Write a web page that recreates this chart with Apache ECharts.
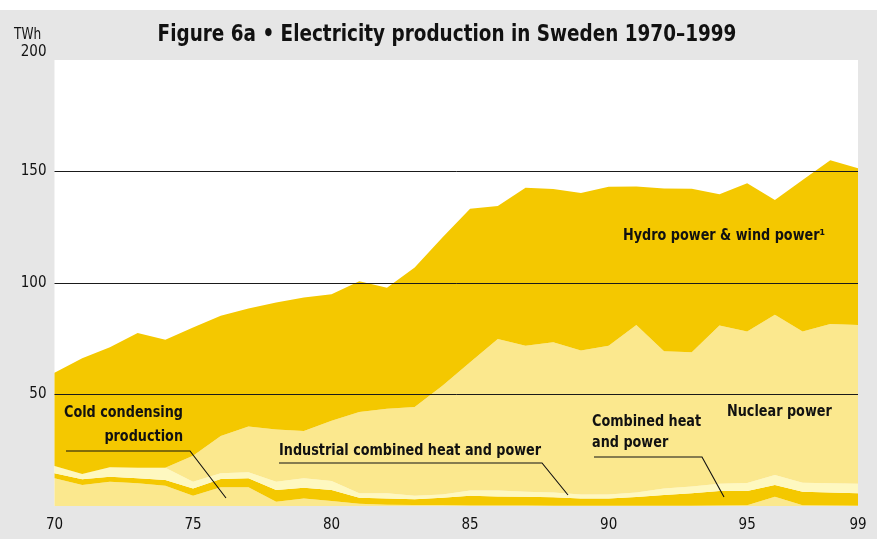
<!DOCTYPE html>
<html>
<head>
<meta charset="utf-8">
<script src="https://cdn.jsdelivr.net/npm/echarts@6/dist/echarts.min.js"></script>
<style>
  html, body { margin: 0; padding: 0; background: #e6e6e6; }
  #chart { width: 877px; height: 539px; }
</style>
</head>
<body>
<div id="chart"></div>
<script>
/* Figure 6a: electricity production in Sweden 1970–1999, stacked areas (TWh). */

const years = [1970, 1971, 1972, 1973, 1974, 1975, 1976, 1977, 1978, 1979,
               1980, 1981, 1982, 1983, 1984, 1985, 1986, 1987, 1988, 1989,
               1990, 1991, 1992, 1993, 1994, 1995, 1996, 1997, 1998, 1999];

// bottom of the stack first
const coldCondensing = [12.4, 9.4, 10.9, 10.2, 9.1, 4.6, 8.4, 8.4, 1.9, 3.4,
                        2.2, 1.0, 0.6, 0.4, 0.4, 0.2, 0.2, 0.2, 0.1, 0.1,
                        0.1, 0.1, 0.1, 0.1, 0.2, 0.3, 4.2, 0.3, 0.2, 0.1];
const chp = [2.3, 2.6, 2.2, 2.2, 2.6, 3.3, 3.7, 4.0, 5.3, 4.8,
             5.0, 2.7, 2.8, 2.6, 3.3, 4.4, 4.1, 4.0, 3.8, 3.3,
             3.3, 3.9, 4.8, 5.6, 6.5, 6.4, 5.2, 6.1, 5.9, 5.6];
const industrialChp = [3.2, 2.3, 4.3, 4.8, 5.5, 3.0, 2.6, 2.7, 3.7, 4.2,
                       4.0, 2.0, 2.3, 1.6, 1.5, 2.4, 2.6, 2.2, 2.1, 1.8,
                       1.8, 2.1, 3.0, 3.1, 3.3, 3.6, 4.5, 4.0, 4.1, 4.3];
const nuclear = [0, 0, 0, 0, 0, 11.6, 16.7, 20.6, 23.4, 21.2,
                 27.0, 36.4, 37.9, 39.8, 48.7, 57.5, 68.0, 65.5, 67.4, 64.5,
                 66.7, 75.1, 61.5, 60.2, 70.9, 67.9, 71.9, 67.8, 71.4, 71.2];
const hydroWind = [41.8, 52.0, 53.8, 60.4, 57.4, 57.5, 53.9, 52.9, 57.0, 59.9,
                   56.7, 58.7, 54.3, 62.6, 66.5, 68.8, 59.6, 70.8, 68.7, 70.7,
                   71.3, 62.1, 73.0, 73.3, 58.9, 66.5, 51.4, 68.0, 73.4, 70.3];

const gridValues = [50, 100, 150];

const C = {
  bg: '#e6e6e6',
  dark: '#f4c800',
  light: '#fbe88e',
  pale: '#fef8c0',
  ink: '#111',
  font: "'DejaVu Sans Condensed', 'Liberation Sans Narrow', sans-serif",
};

function layer(name, data, color, extra) {
  return Object.assign({
    name, type: 'line', stack: 'total', data,
    symbol: 'none', silent: true,
    lineStyle: { width: 0 },
    areaStyle: { color, opacity: 1 },
  }, extra || {});
}

// bold condensed annotation; squeezed horizontally to mimic the narrow face
function label(text, x, y, align) {
  return {
    type: 'text', x, y, z: 20, silent: true, scaleX: 0.89,
    style: {
      text, fill: C.ink, font: `bold 16px ${C.font}`,
      textAlign: align || 'left', textVerticalAlign: 'middle',
    },
  };
}

function leader(points) {
  return {
    type: 'polyline', z: 20, silent: true,
    shape: { points },
    style: { stroke: C.ink, lineWidth: 1.1, fill: null },
  };
}

const chart = echarts.init(document.getElementById('chart'), null, { renderer: 'canvas' });

chart.setOption({
  animation: false,
  backgroundColor: C.bg,
  grid: { left: 54.5, right: 19, top: 60, bottom: 33, show: true, backgroundColor: '#fff', borderWidth: 0 },
  xAxis: {
    type: 'category',
    data: years,
    boundaryGap: false,
    axisLine: { show: false },
    axisTick: { show: false },
    axisLabel: {
      color: C.ink, fontFamily: C.font, fontSize: 15, margin: 12,
      interval: i => i % 5 === 0 || i === years.length - 1,
      formatter: v => String(v).slice(2),
    },
  },
  yAxis: {
    type: 'value',
    min: 0, max: 200, interval: 50,
    axisLine: { show: false },
    axisTick: { show: false },
    splitLine: { show: false },
    axisLabel: {
      color: C.ink, fontFamily: C.font, fontSize: 15, margin: 8,
      showMinLabel: false, verticalAlignMaxLabel: 'bottom',
    },
  },
  series: [
    layer('Cold condensing production', coldCondensing, C.light),
    layer('Combined heat and power', chp, C.dark),
    layer('Industrial combined heat and power', industrialChp, C.pale),
    layer('Nuclear power', nuclear, C.light),
    layer('Hydro power & wind power', hydroWind, C.dark, {
      markLine: {
        silent: true, symbol: 'none',
        label: { show: false },
        lineStyle: { color: '#1a1a1a', type: 'solid', width: 1 },
        data: gridValues.map(v => ({ yAxis: v })),
      },
    }),
  ],
  graphic: [
    { type: 'rect', shape: { x: 0, y: 0, width: 877, height: 10 }, style: { fill: '#fff' }, silent: true },
    {
      type: 'text', x: 447, y: 35, silent: true, scaleX: 0.89,
      style: {
        text: 'Figure 6a • Electricity production in Sweden 1970–1999',
        fill: C.ink, font: `bold 23px ${C.font}`, textAlign: 'center', textVerticalAlign: 'middle',
      },
    },
    {
      type: 'text', x: 14, y: 35, silent: true, scaleX: 0.9,
      style: { text: 'TWh', fill: C.ink, font: `15px ${C.font}`, textVerticalAlign: 'middle' },
    },
    label('Hydro power & wind power¹', 623, 236),
    label('Nuclear power', 727, 412),
    label('Combined heat', 592, 422),
    label('and power', 592, 443),
    leader([[594, 457], [702, 457], [724, 497]]),
    label('Industrial combined heat and power', 279, 451),
    leader([[279, 463], [542, 463], [568, 495]]),
    label('Cold condensing', 64, 413),
    label('production', 183, 437, 'right'),
    leader([[66, 451], [190, 451], [226, 498]]),
  ],
});
</script>
</body>
</html>
